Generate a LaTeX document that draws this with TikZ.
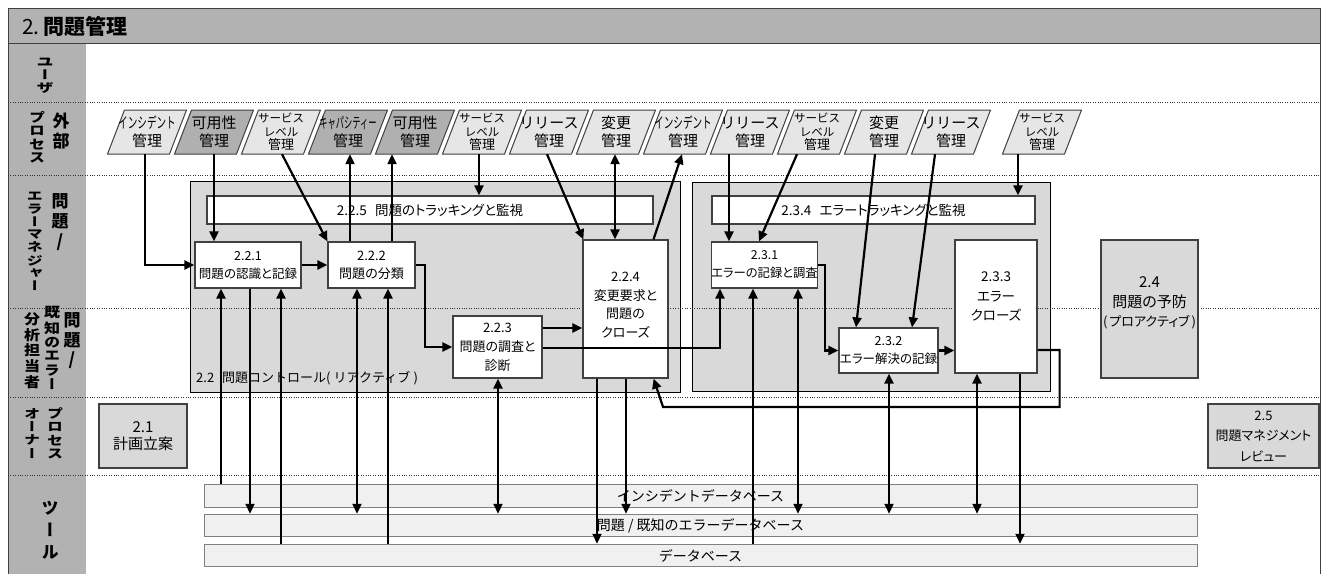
\documentclass[tikz,border=0pt]{standalone}
\usepackage{graphicx}
\usepackage{fontspec}
\setmainfont{Noto Sans CJK JP}[RawFeature=+palt]
\newfontfamily\fw{Noto Sans CJK JP}
\newfontfamily\vjp{Noto Sans CJK JP}[RawFeature=+vert]
\usetikzlibrary{arrows.meta}
\definecolor{hdr}{HTML}{B2B2B2}
\definecolor{contc}{HTML}{D9D9D9}
\definecolor{plight}{HTML}{E6E6E6}
\definecolor{pdark}{HTML}{B0B0B0}
\definecolor{dbf}{HTML}{F0F0F0}
\definecolor{dbl}{HTML}{808080}
\definecolor{bline}{HTML}{404040}
\newcommand\fsz[2]{\fontsize{#1}{#2}\selectfont}
\newcommand\vlab[4]{\scalebox{1}[#3]{\vjp\bfseries\fsz{#1}{#2}\begin{tabular}{@{}c@{}}#4\end{tabular}}}
\newcommand\narrow[2]{\scalebox{#1}[1]{#2}}
\newcommand\paranode[5]{%
  \filldraw[fill=#3,draw=bline,line width=1pt] (#2-39.5,154) -- (#2+22.5,154) -- (#2+39.5,110) -- (#2-22.5,110) -- cycle;
  \node[ptext,font=#4] (#1) at (#2,132) {#5};}
\begin{document}
\begin{tikzpicture}[x=1pt,y=-1pt,
  arr/.style={line width=2.2pt,-{Triangle[length=10pt,width=9pt]}},
  arrb/.style={line width=2.2pt,{Triangle[length=10pt,width=9pt]}-{Triangle[length=10pt,width=9pt]}},
  proc/.style={draw=bline,line width=1.2pt,fill=white,inner sep=0pt,align=center,font=\fsz{12.5}{18}},
  grayproc/.style={proc,fill=contc},
  container/.style={draw=black,line width=1pt,fill=contc,inner sep=0pt},
  db/.style={draw=dbl,line width=1pt,fill=dbf,inner sep=0pt,minimum width=993pt,minimum height=22.5pt,font=\fw\fsz{14}{15}},
  txt/.style={inner sep=0pt,align=center},
  ptext/.style={inner sep=0pt,minimum width=62pt,minimum height=44pt,align=center},
  dotline/.style={line width=0.8pt,dash pattern=on 0.8pt off 1.6pt,draw=black!80},
  vl/.style={inner sep=0pt}
]
\useasboundingbox (0,0) rectangle (1321,573);
\clip (0,0) rectangle (1321,573);
% frame
\fill[hdr] (8,8) rectangle (1321,43);
\fill[hdr] (8,43) rectangle (86,580);
\draw[black!75,line width=1pt] (8,580) -- (8,8) -- (1320.5,8) -- (1320.5,580);
\draw[black!75,line width=1pt] (8,43) -- (1321,43);
\node[anchor=west,inner sep=0pt,font=\fsz{21}{21}] (title) at (22,26) {2.\,\textbf{問題管理}};
% containers
\node[container,minimum width=490pt,minimum height=211pt] (c22) at (435,286.5) {};
\node[container,minimum width=358pt,minimum height=209pt] (c23) at (871,286.5) {};
\node[anchor=west,inner sep=0pt,font=\fw\fsz{13}{15}] (c22lab) at (196,378) {2.2\hspace{0.6em}問題コントロール(\hspace{0.25em}リアクティブ\hspace{0.25em})};
% lane separators
\foreach \yy in {102,175,308,397,475} \draw[dotline] (8,\yy) -- (1321,\yy);
% lane labels
\node[vl] (u1) at (45,77) {\vlab{17}{15}{0.72}{ユ\\ー\\ザ}};
\node[vl] (e1) at (61,133) {\vlab{17}{17}{1}{外\\部}};
\node[vl] (e2) at (37,139) {\vlab{16}{15}{0.82}{プ\\ロ\\セ\\ス}};
\node[vl] (m1) at (60,223) {\vlab{17}{20}{1}{問\\題\\/}};
\node[vl] (m2) at (35,243) {\vlab{16}{15}{0.76}{エ\\ラ\\ー\\マ\\ネ\\ジ\\ャ\\ー}};
\node[vl] (a1) at (72,342) {\vlab{17}{19.5}{1}{問\\題\\/}};
\node[vl] (a2) at (52,350) {\vlab{16}{15}{0.85}{既\\知\\の\\エ\\ラ\\ー}};
\node[vl] (a3) at (32,352) {\vlab{16}{15}{0.87}{分\\析\\担\\当\\者}};
\node[vl] (o1) at (55,435) {\vlab{16}{15}{0.8}{プ\\ロ\\セ\\ス}};
\node[vl] (o2) at (32,435) {\vlab{16}{15}{0.78}{オ\\ー\\ナ\\ー}};
\node[vl] (t1) at (50,532) {\vlab{17}{22}{1}{ツ\\ー\\ル}};
% external processes
\paranode{p1}{147}{plight}{\fw\fsz{15}{18}}{\narrow{0.64}{インシデント}\\管理}
\paranode{p2}{214}{pdark}{\fw\fsz{15}{18}}{可用性\\管理}
\paranode{p3}{281}{plight}{\fw\fsz{11.5}{13.5}}{サービス\\レベル\\{\fsz{13}{13.5}管理}}
\paranode{p4}{348}{pdark}{\fw\fsz{15}{18}}{\narrow{0.55}{キャパシティー}\\管理}
\paranode{p5}{415}{pdark}{\fw\fsz{15}{18}}{可用性\\管理}
\paranode{p6}{482}{plight}{\fw\fsz{11.5}{13.5}}{サービス\\レベル\\{\fsz{13}{13.5}管理}}
\paranode{p7}{549}{plight}{\fw\fsz{15}{18}}{リリース\\管理}
\paranode{p8}{616}{plight}{\fw\fsz{15}{18}}{変更\\管理}
\paranode{p9}{683}{plight}{\fw\fsz{15}{18}}{\narrow{0.64}{インシデント}\\管理}
\paranode{p10}{750}{plight}{\fw\fsz{15}{18}}{リリース\\管理}
\paranode{p11}{817}{plight}{\fw\fsz{11.5}{13.5}}{サービス\\レベル\\{\fsz{13}{13.5}管理}}
\paranode{p12}{884}{plight}{\fw\fsz{15}{18}}{変更\\管理}
\paranode{p13}{951}{plight}{\fw\fsz{15}{18}}{リリース\\管理}
\paranode{p14}{1042}{plight}{\fw\fsz{11.5}{13.5}}{サービス\\レベル\\{\fsz{13}{13.5}管理}}
% process boxes
\node[proc,minimum width=446pt,minimum height=28pt,font=\fsz{13.5}{15}] (n225) at (430,210) {2.2.5\hspace{0.6em}問題のトラッキングと監視};
\node[proc,minimum width=106pt,minimum height=46pt] (n221) at (248,265) {2.2.1\\問題の認識と記録};
\node[proc,minimum width=87pt,minimum height=46pt,font=\fsz{13}{18}] (n222) at (371.5,265) {2.2.2\\問題の分類};
\node[proc,minimum width=89pt,minimum height=62pt,font=\fsz{13}{19}] (n223) at (497.5,347) {2.2.3\\問題の調査と\\診断};
\node[proc,minimum width=85pt,minimum height=138pt] (n224) at (625.5,309) {};
\node[txt,font=\fsz{13}{18.7}] (n224t) at ([yshift=4pt]n224.center) {2.2.4\\変更要求と\\問題の\\クローズ};
\node[proc,minimum width=323pt,minimum height=28pt,font=\fsz{13.5}{15}] (n234) at (873.5,210) {2.3.4\hspace{0.6em}エラートラッキングと監視};
\node[proc,minimum width=105pt,minimum height=46pt,font=\fsz{12.3}{18}] (n231) at (764.5,265) {2.3.1\\エラーの記録と調査};
\node[proc,minimum width=99pt,minimum height=45pt,font=\fsz{12.5}{18}] (n232) at (888.5,350.5) {2.3.2\\エラー解決の記録};
\node[proc,minimum width=82pt,minimum height=133pt] (n233) at (996,306.5) {};
\node[txt,font=\fsz{13.5}{19.5}] (n233t) at ([yshift=10pt]n233.center) {2.3.3\\エラー\\クローズ};
\node[grayproc,minimum width=97pt,minimum height=138pt] (n24) at (1149.5,309) {};
\node[txt,font=\fsz{15}{19.5}] (n24t) at ([yshift=6pt]n24.center) {2.4\\問題の予防\\{\fsz{13}{19.5}(\hspace{0.15em}プロアクティブ\hspace{0.15em})}};
\node[grayproc,minimum width=111pt,minimum height=64pt,font=\fsz{13}{20.5}] (n25) at (1263.5,436) {2.5\\問題マネジメント\\レビュー};
\node[grayproc,minimum width=88pt,minimum height=64pt,font=\fsz{15}{17}] (n21) at (143,436) {2.1\\計画立案};
% databases
\node[db] (db1) at (700.5,496) {インシデントデータベース};
\node[db] (db2) at (700.5,525.5) {問題 / 既知のエラーデータベース};
\node[db] (db3) at (700.5,555.5) {データベース};
% connectors from / to external processes
\draw[arr] ([xshift=-2pt]p1.south) |- (n221.west);
\draw[arr] (p2.south) -- (p2.south |- n221.north);
\draw[arr] ([xshift=1pt]p3.south) -- (n222.north west);
\draw[arr] ([xshift=-21.5pt]n222.north) -- ([xshift=-21.5pt]n222.north |- p4.south);
\draw[arr] ([xshift=20.5pt]n222.north) -- ([xshift=20.5pt]n222.north |- p5.south);
\draw[arr] ([xshift=-3pt]p6.south) -- ([xshift=-3pt]p6.south |- n225.north);
\draw[arr] ([xshift=-2pt]p7.south) -- ([xshift=1pt]n224.north west);
\draw[arrb] ([xshift=-1pt]p8.south) -- ([xshift=-1pt]p8.south |- n224.north);
\draw[arr] ([xshift=28pt]n224.north) -- ([xshift=-1pt]p9.south);
\draw[arr] ([xshift=-21pt]p10.south) -- ([xshift=-21pt]p10.south |- n231.north);
\draw[arr] ([xshift=-20pt]p11.south) -- ([xshift=-5.5pt]n231.north);
\draw[arr] ([xshift=-9pt]p12.south) -- ([xshift=-32.5pt]n232.north);
\draw[arr] ([xshift=-16pt]p13.south) -- ([xshift=23.5pt]n232.north);
\draw[arr] ([xshift=-24pt]p14.south) -- ([xshift=-24pt]p14.south |- n234.north);
% internal flow
\draw[arr] (n221.east) -- (n222.west);
\draw[arr] (n222.east) -- ++(9,0) |- (n223.west);
\draw[arr] ([yshift=19pt]n223.east) -- ([yshift=19pt]n223.east -| n224.west);
\draw[arr] ([yshift=-1pt]n223.east) -| ([xshift=-44.5pt]n231.south);
\draw[arr] (n231.east) -- ++(7,0) |- (n232.west);
\draw[arr] (n232.east) -- (n232.east -| n233.west);
\draw[arr] ([yshift=-43.5pt]n233.east) -- ++(22,0) -- ++(0,57) -- (663,407) -- ([xshift=-15pt]n224.south east);
% database links
\draw[arr] ([xshift=-27pt]n221.south |- db1.north) -- ([xshift=-27pt]n221.south);
\draw[arr] ([xshift=2pt]n221.south) -- ([xshift=2pt]n221.south |- db2.north);
\draw[arr] ([xshift=33pt]n221.south |- db3.north) -- ([xshift=33pt]n221.south);
\draw[arrb] ([xshift=-14.5pt]n222.south) -- ([xshift=-14.5pt]n222.south |- db2.north);
\draw[arr] ([xshift=16.5pt]n222.south |- db3.north) -- ([xshift=16.5pt]n222.south);
\draw[arrb] ([xshift=0.5pt]n223.south) -- ([xshift=0.5pt]n223.south |- db2.north);
\draw[arr] ([xshift=-28.5pt]n224.south) -- ([xshift=-28.5pt]n224.south |- db3.north);
\draw[arr] ([xshift=0.5pt]n224.south) -- ([xshift=0.5pt]n224.south |- db2.north);
\draw[arr] ([xshift=-11.5pt]n231.south |- db3.north) -- ([xshift=-11.5pt]n231.south);
\draw[arrb] ([xshift=33.5pt]n231.south) -- ([xshift=33.5pt]n231.south |- db2.north);
\draw[arrb] ([xshift=0.5pt]n232.south) -- ([xshift=0.5pt]n232.south |- db2.north);
\draw[arrb] ([xshift=-19pt]n233.south) -- ([xshift=-19pt]n233.south |- db2.north);
\draw[arr] ([xshift=24pt]n233.south) -- ([xshift=24pt]n233.south |- db3.north);
\end{tikzpicture}
\end{document}
